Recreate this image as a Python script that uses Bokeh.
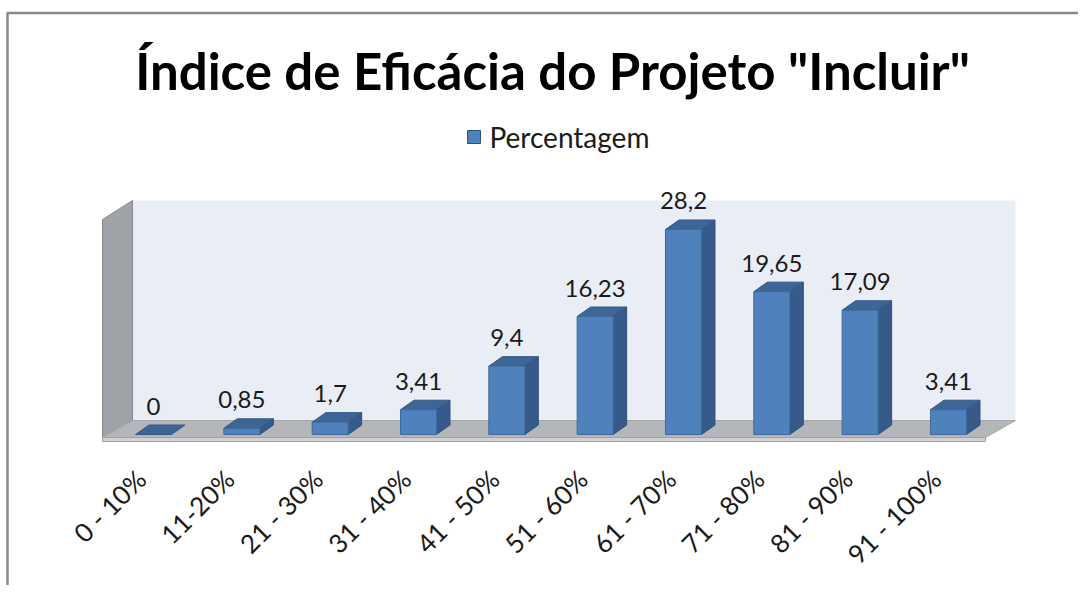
import math
from bokeh.plotting import figure
from bokeh.models import Range1d, ColumnDataSource
from bokeh.core.properties import value
from bokeh.embed import file_html
from bokeh.resources import INLINE

# ---- data ----
categories = ["0 - 10%", "11-20%", "21 - 30%", "31 - 40%", "41 - 50%",
              "51 - 60%", "61 - 70%", "71 - 80%", "81 - 90%", "91 - 100%"]
percentagem = [0, 0.85, 1.7, 3.41, 9.4, 16.23, 28.2, 19.65, 17.09, 3.41]
value_labels = ["0", "0,85", "1,7", "3,41", "9,4", "16,23", "28,2", "19,65", "17,09", "3,41"]
series_name = "Percentagem"
title_text = 'Índice de Eficácia do Projeto "Incluir"'

# ---- layout (pixel geometry of the picture) ----
FW, FH = 1078, 585
OFF = 0
PXU = 88.33   # px per category
PYU = 7.27    # px per value unit
X0, Y0 = 153.0, 434.0  # image px of category 0 / value 0


def dx(px):  # image x px -> data x
    return (px - X0) / PXU


def dy(py):  # image y px -> data y
    return (Y0 - py) / PYU


p = figure(width=FW, height=FH, output_backend="svg", toolbar_location=None,
           x_range=Range1d(dx(OFF), dx(OFF + FW)), y_range=Range1d(dy(OFF + FH), dy(OFF)),
           min_border=0, outline_line_color=None)
p.axis.visible = False
p.grid.visible = False
p.background_fill_color = "white"
p.border_fill_color = "white"

# chart border (top & left)
p.line([dx(7), dx(7), dx(1090)], [dy(600), dy(12.5), dy(12.5)], line_color="#8A8A8A", line_width=2.5)

# walls and floor
n = len(categories)
wall_l, wall_r = dx(132), dx(1015)
front_l, front_r = dx(102), dx(985)
floor_back, floor_front, floor_bottom = dy(420), dy(437), dy(441)
wall_top, side_front_top = dy(200), dy(219)

# back wall
p.patch([wall_l, wall_r, wall_r, wall_l], [floor_back, floor_back, wall_top, wall_top],
        fill_color="#E9EDF6", line_color=None)
# side wall
p.patch([front_l, front_l, wall_l, wall_l], [floor_bottom, side_front_top, wall_top, floor_back],
        fill_color="#9FA2A7", line_color="#86888C", line_width=1)
# floor top
p.patch([front_l, front_r, wall_r, wall_l], [floor_front, floor_front, floor_back, floor_back],
        fill_color="#B4B6BA", line_color="#A4A6AA", line_width=1)
# floor front lip
p.patch([front_l, front_r, front_r, front_l], [floor_bottom, floor_bottom, floor_front, floor_front],
        fill_color="#CFD1D4", line_color="#A0A2A6", line_width=1)

# bars
hw = 18.0 / PXU          # half bar width
ddx = 13.5 / PXU         # depth offset x
ddy = 9.5 / PYU          # depth offset y

fx, fy, sx, sy, tx, ty = [], [], [], [], [], []
for i, v in enumerate(percentagem):
    l, r = i - hw, i + hw
    tx.append([l, r, r + ddx, l + ddx])
    ty.append([v, v, v + ddy, v + ddy])
    if v > 0:
        fx.append([l, r, r, l])
        fy.append([0, 0, v, v])
        sx.append([r, r + ddx, r + ddx, r])
        sy.append([0, ddy, v + ddy, v])

p.patches(sx, sy, fill_color="#365A8A", line_color="#2F5079", line_width=1)
p.patches(tx, ty, fill_color="#3D6595", line_color="#345887", line_width=1)
p.patches(fx, fy, fill_color="#4F81BD", line_color="#3F6A9C", line_width=1)

# value labels
src = ColumnDataSource(dict(x=list(range(n)), y=[v + ddy + 19.0 / PYU for v in percentagem],
                            t=value_labels))
p.text("x", "y", text="t", source=src, text_align="center", text_baseline="alphabetic",
       text_font=value("Lato"), text_font_size="24px", text_color="#1A1A1A")

# category labels (rotated)
csrc = ColumnDataSource(dict(x=[i - 0.14 for i in range(n)], y=[dy(474)] * n, t=categories))
p.text("x", "y", text="t", source=csrc, angle=math.pi / 4, text_align="right",
       text_baseline="middle", text_font=value("Lato"), text_font_size="26px",
       text_color="#1A1A1A")

# title
p.text([dx(552)], [dy(70)], text=[title_text], text_align="center", text_baseline="alphabetic",
       text_font=value("Lato"), text_font_style="bold", text_font_size="51px",
       text_color="#000000")

# legend
p.patch([dx(467), dx(480), dx(480), dx(467)], [dy(143), dy(143), dy(130), dy(130)],
        fill_color="#4F81BD", line_color="#2F5079", line_width=1)
p.text([dx(489)], [dy(136)], text=[series_name], text_align="left", text_baseline="middle",
       text_font=value("Lato"), text_font_size="28px", text_color="#1A1A1A")

open("out.html", "w").write(file_html(p, INLINE))
